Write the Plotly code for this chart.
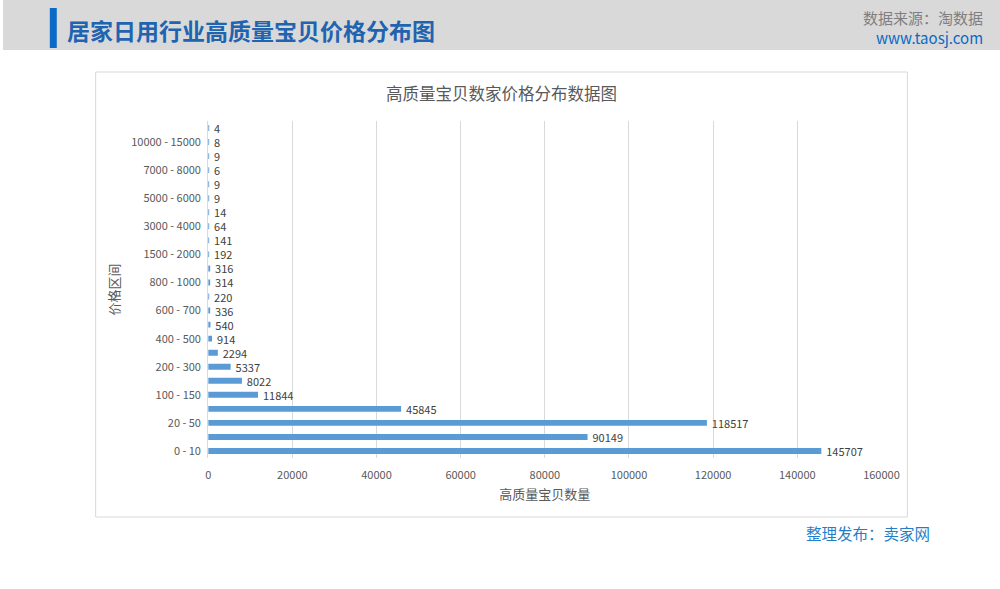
import plotly.graph_objects as go

categories = ["0 - 10", "10 - 20", "20 - 50", "50 - 100", "100 - 150", "150 - 200",
              "200 - 300", "300 - 400", "400 - 500", "500 - 600", "600 - 700", "700 - 800",
              "800 - 1000", "1000 - 1500", "1500 - 2000", "2000 - 3000", "3000 - 4000",
              "4000 - 5000", "5000 - 6000", "6000 - 7000", "7000 - 8000", "8000 - 10000",
              "10000 - 15000", "15000以上"]
counts = [145707, 90149, 118517, 45845, 11844, 8022, 5337, 2294, 914, 540, 336, 220,
          314, 316, 192, 141, 64, 14, 9, 9, 6, 9, 8, 4]
shown_ticks = categories[::2]
x_ticks = [0, 20000, 40000, 60000, 80000, 100000, 120000, 140000, 160000]

FIG_W, H = 1017, 589
REF_W = 1000
def px(x): return x / REF_W
def py(y): return 1 - y / H

CJK = "Noto Sans CJK SC, Noto Sans, sans-serif"

fig = go.Figure(go.Bar(
    y=categories, x=counts, orientation="h",
    marker=dict(color="#5b9bd5", line=dict(width=0)),
    width=0.42,
    text=["\u00a0\u00a0" + str(v) for v in counts], textposition="outside",
    constraintext="none",
    textfont=dict(size=11, color="#404040", family=CJK),
    cliponaxis=False,
))

fig.update_layout(
    width=FIG_W, height=H, autosize=False, margin=dict(l=0, r=0, t=0, b=0),
    paper_bgcolor="white", plot_bgcolor="white",
    showlegend=False,
    font=dict(family=CJK, color="#595959"),
    xaxis=dict(domain=[px(206), px(882)], range=[0, 160000], tickvals=x_ticks,
               ticktext=[str(v) for v in x_ticks],
               showgrid=True, gridcolor="#d9d9d9", gridwidth=1, zeroline=False,
               showline=False, tickfont=dict(size=11, color="#595959"),
               ticks="outside", ticklen=7, tickcolor="rgba(0,0,0,0)",
               title=dict(text="高质量宝贝数量", font=dict(size=13, color="#595959"), standoff=8),
               anchor="y"),
    yaxis=dict(domain=[py(458), py(121)], type="category", categoryorder="array",
               categoryarray=categories, range=[-0.5, len(categories) - 0.5],
               tickvals=shown_ticks, ticktext=shown_ticks,
               showgrid=False, zeroline=False, showline=True, linecolor="#d9d9d9",
               tickfont=dict(size=11, color="#595959"),
               ticks="outside", ticklen=4, tickcolor="rgba(0,0,0,0)",
               title=dict(text="价格区间", font=dict(size=13, color="#595959"), standoff=8),
               anchor="x"),
    bargap=0.5,
)

shapes = [
    dict(type="rect", xref="paper", yref="paper", x0=0, x1=1.05, y0=py(50), y1=1,
         fillcolor="#d9d9d9", line=dict(width=0), layer="below"),
    dict(type="rect", xref="paper", yref="paper", x0=px(47), x1=px(54), y0=py(48), y1=py(8),
         fillcolor="#0a6ac7", line=dict(width=0)),
    dict(type="rect", xref="paper", yref="paper", x0=px(93), x1=px(908), y0=py(517), y1=py(72),
         fillcolor="rgba(0,0,0,0)", line=dict(color="#d9d9d9", width=1), layer="below"),
]
fig.update_layout(shapes=shapes)

annotations = [
    dict(text="<b>居家日用行业高质量宝贝价格分布图</b>", x=px(62), y=py(30), xref="paper", yref="paper",
         xanchor="left", yanchor="middle", showarrow=False,
         font=dict(size=23, color="#1f64b0", family=CJK)),
    dict(text="数据来源：淘数据", x=px(986), y=py(18), xref="paper", yref="paper",
         xanchor="right", yanchor="middle", showarrow=False,
         font=dict(size=15, color="#7f7f7f", family=CJK)),
    dict(text="www.taosj.com", x=px(986), y=py(37), xref="paper", yref="paper",
         xanchor="right", yanchor="middle", showarrow=False,
         font=dict(size=15, color="#0a6ac7", family=CJK)),
    dict(text="高质量宝贝数家价格分布数据图", x=px(500), y=py(93), xref="paper", yref="paper",
         xanchor="center", yanchor="middle", showarrow=False,
         font=dict(size=16.5, color="#595959", family=CJK)),
    dict(text="整理发布：卖家网", x=px(933), y=py(533), xref="paper", yref="paper",
         xanchor="right", yanchor="middle", showarrow=False,
         font=dict(size=15.5, color="#1f7fc8", family=CJK)),
]
fig.update_layout(annotations=annotations)

fig.write_html("out.html")
